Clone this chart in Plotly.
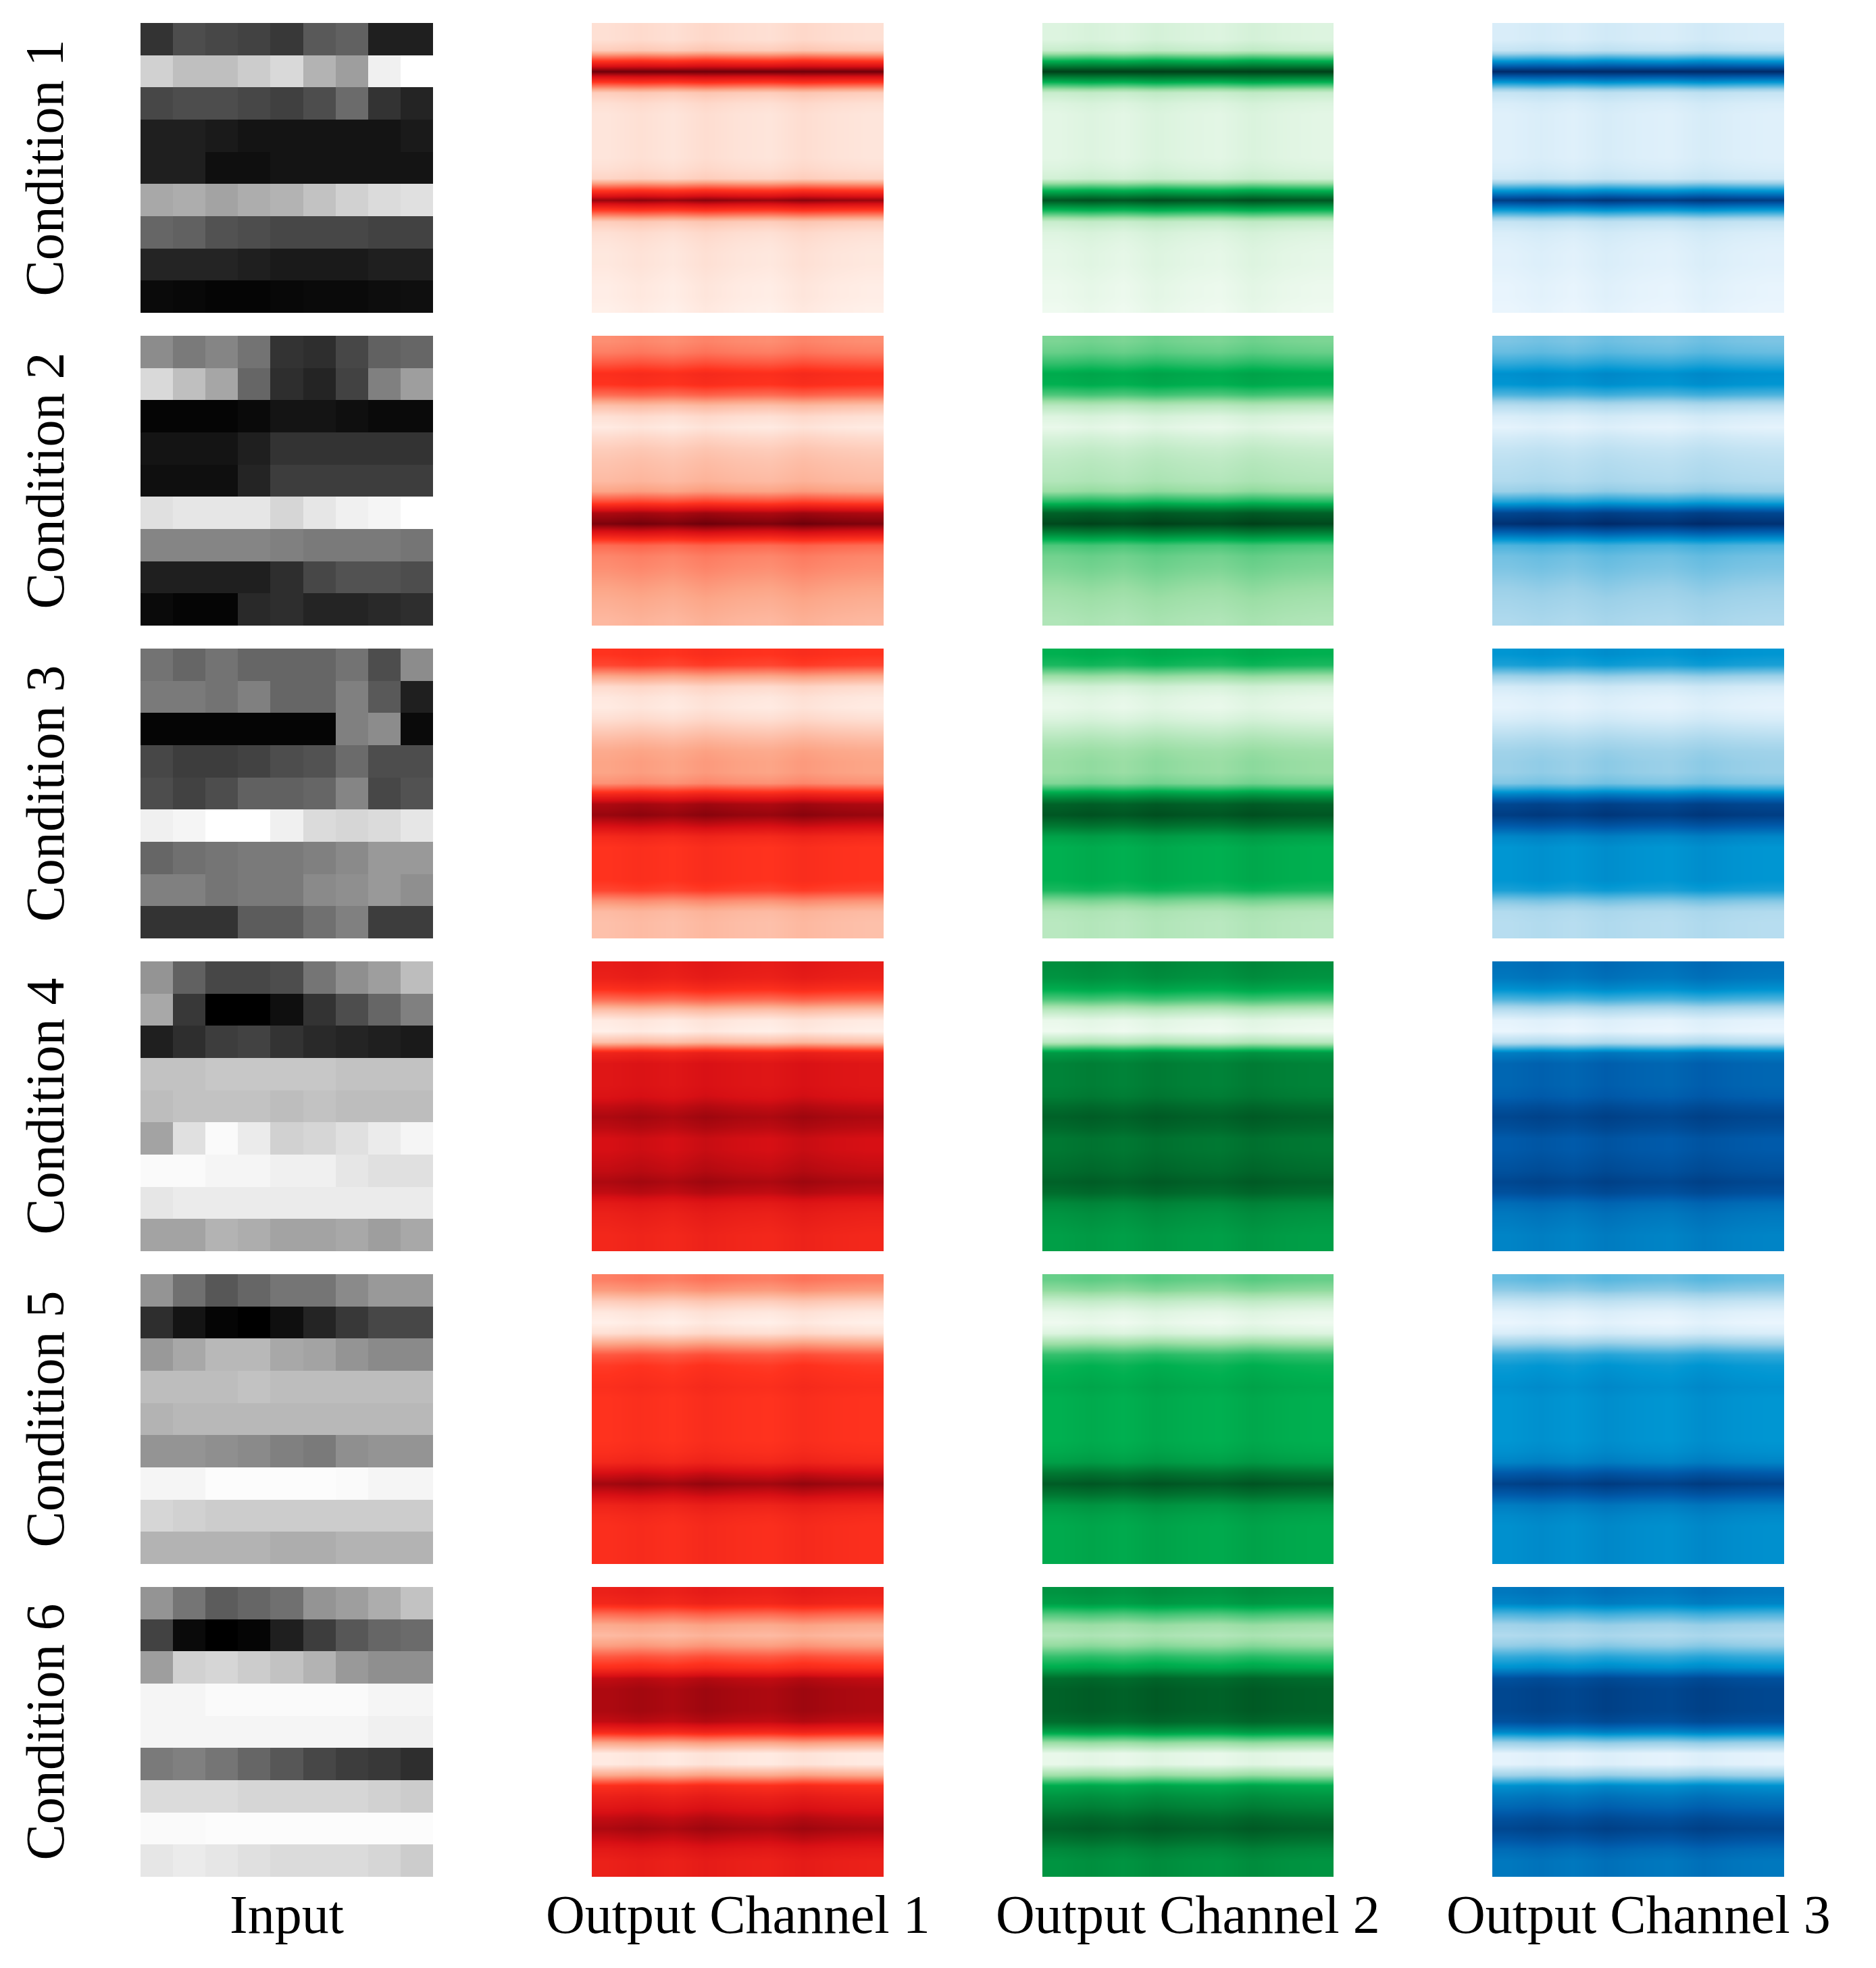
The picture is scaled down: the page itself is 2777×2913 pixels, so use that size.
import numpy as np
import plotly.graph_objects as go

conditions = ["Condition 1", "Condition 2", "Condition 3", "Condition 4", "Condition 5", "Condition 6"]
col_titles = ["Input", "Output Channel 1", "Output Channel 2", "Output Channel 3"]

# Input 9x9 grids, brightness 0 (black) .. 100 (white), top row first
input_c1 = [[20,30,28,26,22,35,38,12,12],[82,75,75,80,85,70,62,94,100],[28,30,30,28,25,30,42,20,14],
            [12,12,10,8,8,8,8,8,10],[12,12,6,6,8,8,8,8,8],[66,68,64,68,70,76,82,86,88],
            [40,38,32,30,28,28,28,26,26],[14,14,14,12,10,10,10,12,12],[4,3,2,2,3,4,4,5,6]]
input_c2 = [[55,48,52,45,20,18,28,38,40],[85,75,65,40,18,14,26,50,62],[2,2,2,4,8,8,6,4,4],
            [8,8,8,12,20,20,20,20,20],[6,6,6,14,24,24,24,24,24],[88,90,90,90,84,90,94,96,100],
            [52,52,52,52,50,48,48,48,46],[12,12,12,12,18,28,32,32,30],[4,2,2,16,18,14,14,16,18]]
input_c3 = [[45,40,45,40,40,40,45,30,55],[48,48,45,50,40,40,50,35,12],[2,2,2,2,2,2,50,55,4],
            [28,24,24,26,30,32,42,30,30],[30,26,30,38,38,40,52,28,32],[94,96,100,100,94,86,84,86,90],
            [40,44,46,48,48,50,54,60,60],[50,50,46,48,48,54,56,60,56],[20,20,20,36,36,44,50,24,24]]
input_c4 = [[58,38,28,28,30,46,56,62,74],[66,22,0,0,6,20,30,40,50],[12,18,24,26,20,16,14,12,10],
            [76,76,78,78,78,78,76,76,76],[74,76,76,76,74,76,74,74,74],[64,88,98,92,82,84,88,92,96],
            [98,98,96,96,94,94,90,88,88],[90,92,92,92,92,92,92,92,92],[64,64,70,68,64,64,66,62,66]]
input_c5 = [[58,44,34,40,46,46,54,60,60],[18,8,2,0,6,14,22,28,28],[60,66,72,72,66,64,58,54,54],
            [74,74,74,76,74,74,74,74,74],[70,72,72,72,72,72,72,72,72],[58,58,56,54,50,48,56,58,58],
            [96,96,99,99,99,99,98,96,96],[84,82,80,80,80,80,80,80,80],[70,70,70,70,68,68,70,70,70]]
input_c6 = [[58,46,36,40,44,58,62,68,76],[26,4,0,2,12,24,34,40,42],[62,82,84,80,76,70,60,56,56],
            [96,96,98,98,98,98,98,96,96],[96,96,96,96,96,96,96,94,94],[48,50,46,40,34,28,24,22,18],
            [86,86,86,84,84,84,84,82,80],[98,98,99,99,99,99,99,99,99],[90,92,90,88,86,86,86,84,80]]
inputs = [input_c1, input_c2, input_c3, input_c4, input_c5, input_c6]

# Output intensity profiles (top to bottom), 0..1
profile_c1 = [0.08,0.08,0.15,0.6,1.0,0.6,0.15,0.08,0.06,0.06,0.06,0.06,0.06,0.08,0.12,0.55,0.92,0.55,0.15,0.08,0.06,0.05,0.05,0.04,0.03,0.03,0.02]
profile_c2 = [0.36,0.4,0.5,0.62,0.6,0.45,0.2,0.08,0.04,0.1,0.15,0.18,0.2,0.22,0.3,0.55,0.88,0.97,0.72,0.45,0.38,0.36,0.33,0.3,0.27,0.25,0.23]
profile_c3 = [0.6,0.55,0.3,0.1,0.05,0.04,0.08,0.15,0.22,0.28,0.3,0.3,0.35,0.65,0.88,0.92,0.8,0.65,0.6,0.6,0.6,0.6,0.55,0.35,0.22,0.2,0.2]
profile_c4 = [0.72,0.7,0.62,0.45,0.2,0.04,0.02,0.2,0.68,0.76,0.76,0.76,0.78,0.84,0.88,0.85,0.8,0.8,0.82,0.84,0.88,0.84,0.74,0.7,0.68,0.66,0.66]
profile_c5 = [0.4,0.32,0.15,0.05,0.02,0.08,0.3,0.5,0.58,0.6,0.62,0.6,0.6,0.6,0.6,0.6,0.62,0.66,0.8,0.9,0.8,0.68,0.64,0.62,0.62,0.62,0.62]
profile_c6 = [0.7,0.66,0.45,0.28,0.22,0.32,0.5,0.62,0.84,0.88,0.88,0.88,0.84,0.65,0.3,0.04,0.04,0.28,0.62,0.7,0.76,0.84,0.88,0.82,0.74,0.7,0.7]
profiles = [profile_c1, profile_c2, profile_c3, profile_c4, profile_c5, profile_c6]
column_variation = [0.0,0.02,0.0,0.03,0.01,0.0,0.03,0.01,0.0]

reds = [[0, "rgb(255,245,240)"], [0.3, "rgb(252,165,135)"], [0.6, "rgb(255,50,30)"],
        [0.8, "rgb(215,15,20)"], [1, "rgb(110,0,10)"]]
greens = [[0, "rgb(245,252,245)"], [0.3, "rgb(155,222,165)"], [0.6, "rgb(0,176,80)"],
          [0.8, "rgb(0,120,50)"], [1, "rgb(0,64,25)"]]
blues = [[0, "rgb(240,248,255)"], [0.3, "rgb(155,208,232)"], [0.6, "rgb(0,150,210)"],
         [0.8, "rgb(0,90,170)"], [1, "rgb(0,42,105)"]]
channel_scales = [reds, greens, blues]

W, H = 2777, 2913
col_px = [(200, 633), (868, 1300), (1535, 1966), (2201, 2633)]
row_top0, row_h, row_pitch = 26, 429, 463
FONT = dict(family="Liberation Serif", size=80, color="black")

fig = go.Figure()
layout = dict(width=W, height=H, margin=dict(l=0, r=0, t=0, b=0),
              paper_bgcolor="white", plot_bgcolor="white", showlegend=False)
annotations = []
k = 0
for r in range(6):
    top = row_top0 + r * row_pitch
    yd = [1 - (top + row_h) / H, 1 - top / H]
    for c in range(4):
        k += 1
        xa = "x" if k == 1 else f"x{k}"
        ya = "y" if k == 1 else f"y{k}"
        xd = [col_px[c][0] / W, col_px[c][1] / W]
        if c == 0:
            fig.add_trace(go.Heatmap(z=inputs[r], zmin=0, zmax=100,
                                     colorscale=[[0, "black"], [1, "white"]],
                                     showscale=False, xaxis=xa, yaxis=ya))
        else:
            z = np.clip(np.array(profiles[r])[:, None] + np.array(column_variation)[None, :], 0, 1)
            fig.add_trace(go.Heatmap(z=z, zmin=0, zmax=1, colorscale=channel_scales[c - 1],
                                     zsmooth="best", showscale=False, xaxis=xa, yaxis=ya))
        layout["xaxis" if k == 1 else f"xaxis{k}"] = dict(domain=xd, visible=False, anchor=ya)
        layout["yaxis" if k == 1 else f"yaxis{k}"] = dict(domain=yd, visible=False, anchor=xa,
                                                          autorange="reversed")
    annotations.append(dict(text=conditions[r], x=58 / W, y=1 - (top + row_h / 2) / H,
                            xref="paper", yref="paper", textangle=-90, showarrow=False,
                            xanchor="center", yanchor="middle", font=FONT))
for c in range(4):
    annotations.append(dict(text=col_titles[c], x=(col_px[c][0] + col_px[c][1]) / 2 / W,
                            y=1 - 2826 / H, xref="paper", yref="paper", showarrow=False,
                            xanchor="center", yanchor="middle", font=FONT))
layout["annotations"] = annotations
fig.update_layout(**layout)
fig.write_html("out.html")
